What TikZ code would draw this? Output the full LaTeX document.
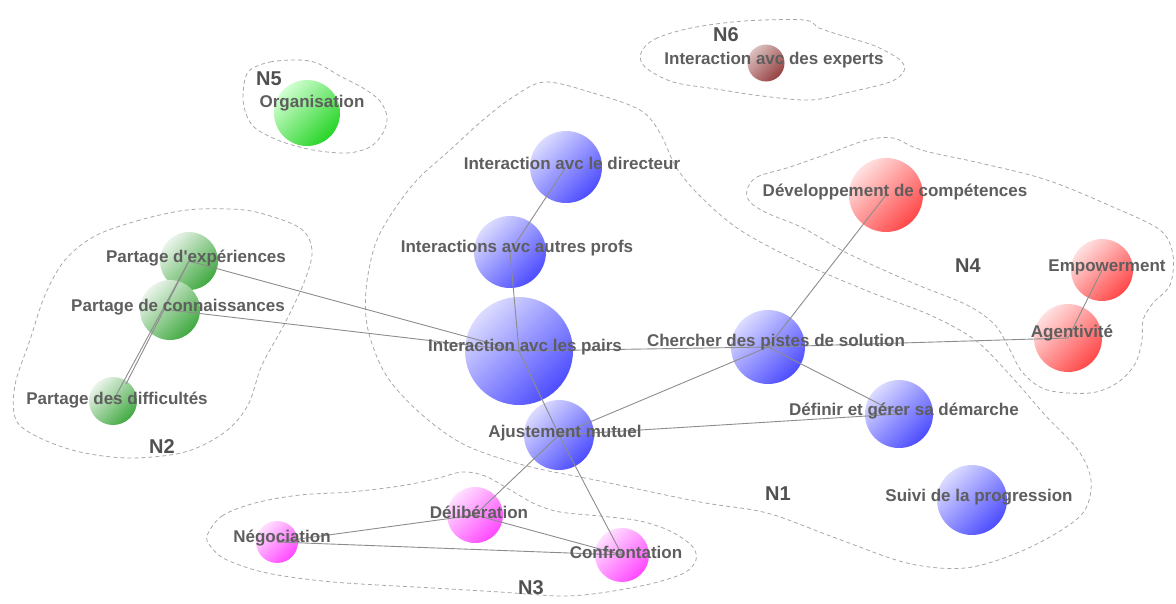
\documentclass[tikz,border=0pt]{standalone}
\usepackage{fontspec}
\setmainfont{Liberation Sans}[Ligatures=TeXOff]
\begin{document}
\definecolor{labelgray}{HTML}{5E5E5E}
\definecolor{grpgray}{HTML}{505050}
\definecolor{linkgray}{HTML}{8C8C8C}
\definecolor{hullgray}{HTML}{A8A8A8}
\begin{tikzpicture}[x=1pt,y=-1pt,
  ball/.style={circle, inner sep=0pt, minimum size=#1},
  blueball/.style={top color=blue!14, bottom color=blue!70!white, shading angle=45},
  greenball/.style={top color=green!45!black!8!white, bottom color=green!55!black!75!white, shading angle=45},
  limeball/.style={top color=green!18, bottom color=green!80!black!85!white, shading angle=45},
  redball/.style={top color=red!12, bottom color=red!72!white, shading angle=45},
  pinkball/.style={top color=magenta!12, bottom color=magenta!72!white, shading angle=45},
  brownball/.style={top color=red!45!black!25!white, bottom color=red!45!black!75!white, shading angle=45},
  lbl/.style={font=\bfseries\fontsize{17}{20}\selectfont, text=labelgray, inner sep=0pt},
  grp/.style={font=\bfseries\fontsize{20}{24}\selectfont, text=grpgray, inner sep=0pt},
  link/.style={draw=linkgray, line width=0.9pt},
  hull/.style={draw=hullgray, dash pattern=on 4pt off 3pt, line width=0.8pt}]
\useasboundingbox (0,0) rectangle (1176,603);

% group outlines
\draw[hull] plot[smooth cycle, tension=0.55] coordinates {
  (545,82) (593,93) (640,110) (660,133) (676,167) (700,196) (740,230) (800,262)
  (870,292) (930,315) (975,340) (1010,375) (1045,415) (1078,450) (1091,480)
  (1085,510) (1060,531) (1017,553) (965,568) (907,563) (833,537) (767,513)
  (700,502) (600,481) (527,466) (465,445) (420,413) (386,375) (368,330)
  (366,290) (375,245) (392,213) (417,180) (450,150) (483,120) (513,97)};
\draw[hull] plot[smooth cycle, tension=0.55] coordinates {
  (187,210) (140,220) (95,236) (65,260) (45,295) (30,340) (15,385) (16,420)
  (40,438) (80,452) (130,458) (185,452) (225,432) (248,405) (262,365)
  (285,323) (305,280) (312,250) (300,228) (260,213) (230,209)};
\draw[hull] plot[smooth cycle, tension=0.55] coordinates {
  (207,536) (222,516) (255,503) (300,495) (350,492) (400,486) (435,479)
  (462,472) (485,476) (512,491) (535,504) (560,512) (600,516) (640,521)
  (670,531) (692,546) (696,560) (684,573) (650,584) (600,593) (560,596)
  (500,592) (433,588) (333,582) (267,573) (227,560) (212,548)};
\draw[hull] plot[smooth cycle, tension=0.55] coordinates {
  (747,190) (757,177) (790,167) (830,153) (867,140) (893,138) (913,147)
  (933,153) (980,163) (1047,180) (1113,207) (1160,230) (1173,255) (1170,285)
  (1153,303) (1143,320) (1142,340) (1135,364) (1117,383) (1090,393)
  (1047,390) (1023,373) (1010,350) (995,325) (967,305) (913,283) (847,253)
  (803,228) (767,213) (750,202)};
\draw[hull] plot[smooth cycle, tension=0.55] coordinates {
  (250,70) (270,62) (297,60) (317,63) (340,76) (363,88) (380,101) (387,117)
  (383,133) (370,147) (347,153) (313,150) (280,141) (254,127) (244,107) (244,84)};
\draw[hull] plot[smooth cycle, tension=0.55] coordinates {
  (641,53) (655,39) (691,28) (744,21) (804,20) (819,28) (840,35) (875,46)
  (900,60) (904,71) (890,82) (850,92) (811,100) (762,96) (716,89) (673,82) (645,67)};

% concept spheres
\node[ball=72pt,  blueball]  (dir)    at (566,167) {};
\node[ball=72pt,  blueball]  (profs)  at (510,252) {};
\node[ball=108pt, blueball]  (pairs)  at (519,351) {};
\node[ball=70pt,  blueball]  (ajust)  at (559,435) {};
\node[ball=74pt,  blueball]  (cherch) at (768,347) {};
\node[ball=68pt,  blueball]  (defin)  at (899,414) {};
\node[ball=70pt,  blueball]  (suivi)  at (972,500) {};
\node[ball=74pt,  redball]   (devel)  at (886,195) {};
\node[ball=62pt,  redball]   (empow)  at (1102,270) {};
\node[ball=68pt,  redball]   (agent)  at (1068,338) {};
\node[ball=37pt,  brownball] (expert) at (766,63) {};
\node[ball=66pt,  limeball]  (orga)   at (307,113) {};
\node[ball=58pt,  greenball] (exper)  at (189,261) {};
\node[ball=60pt,  greenball] (conn)   at (170,310) {};
\node[ball=48pt,  greenball] (diff)   at (113,401) {};
\node[ball=56pt,  pinkball]  (delib)  at (475,515) {};
\node[ball=42pt,  pinkball]  (nego)   at (277,542) {};
\node[ball=54pt,  pinkball]  (confr)  at (622,555) {};
\coordinate (diffb) at (126,384);

% links
\draw[link] (dir.center) -- (profs.center);
\draw[link] (profs.center) -- (pairs.center);
\draw[link] (pairs.center) -- (ajust.center);
\draw[link] (ajust.center) -- (confr.center);
\draw[link] (exper.center) -- (pairs.center);
\draw[link] (conn.center) -- (pairs.center);
\draw[link] (exper.center) -- (diff.center);
\draw[link] (exper.center) -- (diffb);
\draw[link] (pairs.center) -- (cherch.center);
\draw[link] (cherch.center) -- (agent.center);
\draw[link] (agent.center) -- (empow.center);
\draw[link] (cherch.center) -- (devel.center);
\draw[link] (cherch.center) -- (defin.center);
\draw[link] (ajust.center) -- (cherch.center);
\draw[link] (ajust.center) -- (defin.center);
\draw[link] (ajust.center) -- (delib.center);
\draw[link] (delib.center) -- (nego.center);
\draw[link] (delib.center) -- (confr.center);
\draw[link] (nego.center) -- (confr.center);

% concept labels
\node[lbl] (dir-l)    at (572,163)  {Interaction avc le directeur};
\node[lbl] (profs-l)  at (517,248)  {Interactions avc autres profs};
\node[lbl] (pairs-l)  at (525,347)  {Interaction avc les pairs};
\node[lbl] (ajust-l)  at (565,433)  {Ajustement mutuel};
\node[lbl] (cherch-l) at (776,342)  {Chercher des pistes de solution};
\node[lbl] (defin-l)  at (904,411)  {Définir et gérer sa démarche};
\node[lbl] (suivi-l)  at (979,497)  {Suivi de la progression};
\node[lbl] (devel-l)  at (895,192)  {Développement de compétences};
\node[lbl] (empow-l)  at (1107,267) {Empowerment};
\node[lbl] (agent-l)  at (1072,333) {Agentivité};
\node[lbl] (expert-l) at (774,60)   {Interaction avc des experts};
\node[lbl] (orga-l)   at (312,103)  {Organisation};
\node[lbl] (exper-l)  at (196,258)  {Partage d'expériences};
\node[lbl] (conn-l)   at (178,307)  {Partage de connaissances};
\node[lbl] (diff-l)   at (117,400)  {Partage des difficultés};
\node[lbl] (delib-l)  at (479,512)  {Délibération};
\node[lbl] (nego-l)   at (282,538)  {Négociation};
\node[lbl] (confr-l)  at (626,552)  {Confrontation};

% group names
\node[grp] (g1) at (778,494) {N1};
\node[grp] (g2) at (162,447) {N2};
\node[grp] (g3) at (531,588) {N3};
\node[grp] (g4) at (968,266) {N4};
\node[grp] (g5) at (269,79)  {N5};
\node[grp] (g6) at (726,35)  {N6};
\end{tikzpicture}
\end{document}
